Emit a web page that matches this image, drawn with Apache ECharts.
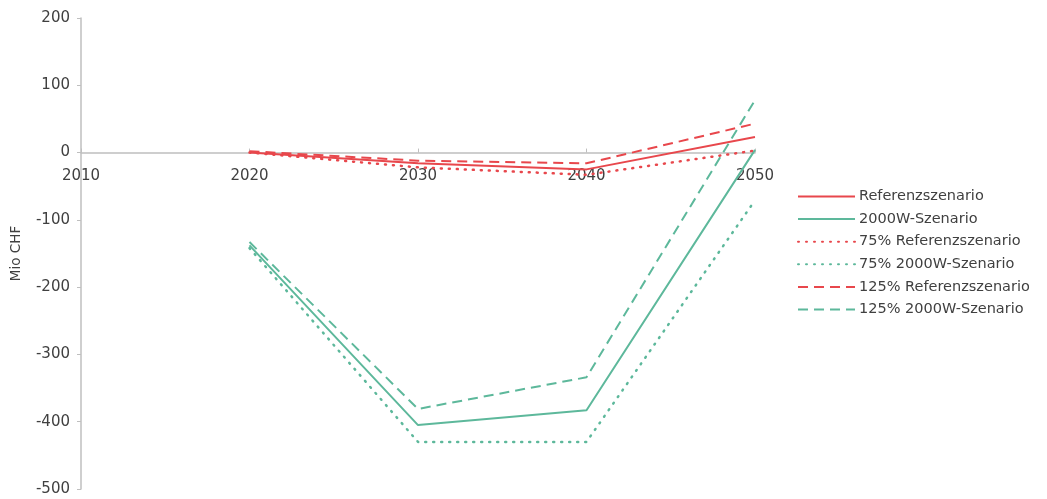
<!DOCTYPE html>
<html><head><meta charset="utf-8">
<script src="https://cdn.jsdelivr.net/npm/echarts@6/dist/echarts.min.js"></script>
<style>html,body{margin:0;padding:0;background:#fff}#c{width:1047px;height:499px}</style>
</head><body><div id="c"></div>
<script>
const years = ['2010','2020','2030','2040','2050'];
const referenz = [null, 0, -16, -25, 23];
const w2000 = [null, -138, -405, -383, 4];
const referenz75 = [null, 0, -22, -33, 3];
const w2000_75 = [null, -142, -430, -430, -71];
const referenz125 = [null, 2, -12, -16, 43];
const w2000_125 = [null, -133, -381, -334, 78];
const names = ['Referenzszenario','2000W-Szenario','75% Referenzszenario','75% 2000W-Szenario','125% Referenzszenario','125% 2000W-Szenario'];
const yTicks = {min: -500, max: 200, interval: 100};

const RED = '#e8474c', GREEN = '#5db89b';
function s(name, data, color, type) {
  return {name, type: 'line', data, symbol: 'none', connectNulls: false,
    lineStyle: {color, width: type === 'dotted' ? 2.5 : 2, type: type === 'dotted' ? [1, 7] : type === 'dashed' ? [10, 6] : 'solid', cap: type === 'dotted' ? 'round' : 'butt'},
    itemStyle: {color}};
}
const gridTop = 18, gridBottom = 10, H = 499;
const plotH = H - gridTop - gridBottom;
const zeroOffset = -(plotH * (0 - yTicks.min) / (yTicks.max - yTicks.min));
const chart = echarts.init(document.getElementById('c'));
chart.setOption({
  animation: false,
  textStyle: {fontFamily: 'DejaVu Sans'},
  grid: {left: 81, right: 292, top: gridTop, bottom: gridBottom, outerBoundsMode: 'none', containLabel: false},
  legend: {orient: 'vertical', left: 792, top: 184, itemWidth: 57, itemHeight: 14, itemGap: 7.6,
    itemStyle: {opacity: 0},
    textStyle: {fontSize: 14.5, color: '#404040', fontFamily: 'DejaVu Sans', padding: [0, 0, 0, -1]}, data: names},
  xAxis: {type: 'category', data: years, boundaryGap: false,
    offset: zeroOffset,
    axisLine: {onZero: false, lineStyle: {color: '#bfbfbf', width: 1.5}},
    axisTick: {show: true, inside: true, length: 4, lineStyle: {color: '#bfbfbf'}},
    axisLabel: {fontSize: 15, color: '#404040', margin: 16, interval: 0}},
  yAxis: {type: 'value', min: yTicks.min, max: yTicks.max, interval: yTicks.interval,
    name: 'Mio CHF', nameLocation: 'middle', nameGap: 58, nameRotate: 90,
    nameTextStyle: {fontSize: 13.5, color: '#404040'},
    splitLine: {show: false},
    axisLine: {show: true, lineStyle: {color: '#bfbfbf', width: 1.5}},
    axisTick: {show: true, length: 4, lineStyle: {color: '#bfbfbf'}},
    axisLabel: {fontSize: 15, color: '#404040', margin: 11}},
  series: [
    s(names[0], referenz, RED, 'solid'),
    s(names[1], w2000, GREEN, 'solid'),
    s(names[2], referenz75, RED, 'dotted'),
    s(names[3], w2000_75, GREEN, 'dotted'),
    s(names[4], referenz125, RED, 'dashed'),
    s(names[5], w2000_125, GREEN, 'dashed')
  ]
});
</script></body></html>
